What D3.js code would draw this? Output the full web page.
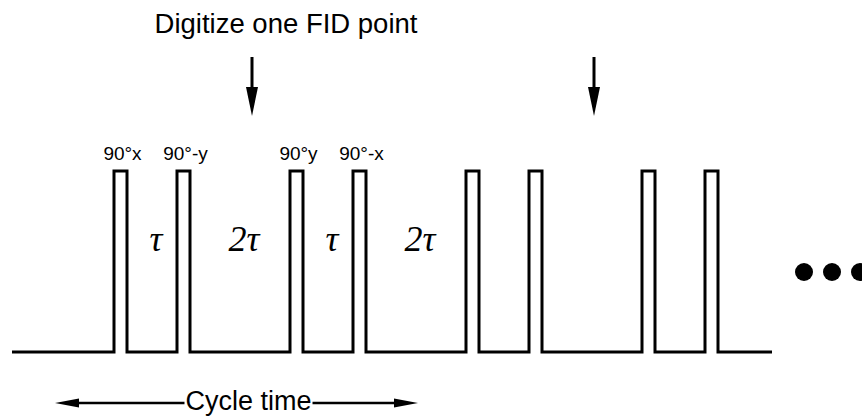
<!DOCTYPE html>
<html><head><meta charset="utf-8">
<script src="https://cdn.jsdelivr.net/npm/d3@7"></script>
<style>html,body{margin:0;padding:0;background:#fff;}svg{display:block;}</style>
</head><body>
<svg id="c" width="862" height="416"></svg>
<script>
// Time axis in units of tau
const pulseStarts = [0, 1.26, 3.52, 4.78, 7.04, 8.30, 10.56, 11.82];
const pulseWidth = 0.26;
const trainRange = [-2.04, 13.16];
const pulseLabels = ["90°x", "90°-y", "90°y", "90°-x"];
const delayLabels = ["τ", "2τ", "τ", "2τ"];
const digitizeTimes = [2.76, 9.60];
const cycleRange = [-1.18, 6.08];
const cycleTextCenter = 2.69;
const titleText = "Digitize one FID point";
const cycleText = "Cycle time";
const dotCount = 3;

const svg = d3.select("#c");
const x = d3.scaleLinear().domain([0, 1]).range([114, 164]);
const y = d3.scaleLinear().domain([0, 1]).range([352, 171]);

// pulse train
const pts = [[trainRange[0], 0]];
pulseStarts.forEach(s => {
  pts.push([s, 0], [s, 1], [s + pulseWidth, 1], [s + pulseWidth, 0]);
});
pts.push([trainRange[1], 0]);
svg.append("path")
  .attr("d", d3.line().x(d => x(d[0])).y(d => y(d[1]))(pts))
  .attr("fill", "none").attr("stroke", "#000").attr("stroke-width", 3)
  .attr("stroke-linejoin", "miter");

// pulse labels
svg.selectAll("text.pl").data(pulseLabels).join("text")
  .attr("class", "pl")
  .attr("x", (d, i) => x(pulseStarts[i] + pulseWidth / 2) + 2)
  .attr("y", y(1) - 11)
  .attr("text-anchor", "middle")
  .attr("font-family", "Liberation Sans, Arial, sans-serif")
  .attr("font-size", 19)
  .text(d => d);

// delay labels
svg.selectAll("text.dl").data(delayLabels).join("text")
  .attr("class", "dl")
  .attr("x", (d, i) => x((pulseStarts[i] + pulseWidth + pulseStarts[i + 1]) / 2 + 0.08))
  .attr("y", y(0.56))
  .attr("text-anchor", "middle")
  .attr("font-family", "Liberation Serif, Times New Roman, serif")
  .attr("font-style", "italic")
  .attr("font-size", 36)
  .text(d => d);

// title
svg.append("text")
  .attr("x", 286).attr("y", 33)
  .attr("text-anchor", "middle")
  .attr("font-family", "Liberation Sans, Arial, sans-serif")
  .attr("font-size", 27.5)
  .text(titleText);

// digitize arrows
const arrowTop = 57, arrowTip = 116, headLen = 29, headHalf = 6;
digitizeTimes.forEach(t => {
  const ax = x(t);
  svg.append("line").attr("x1", ax).attr("x2", ax)
    .attr("y1", arrowTop).attr("y2", arrowTip - headLen + 2)
    .attr("stroke", "#000").attr("stroke-width", 3);
  svg.append("path")
    .attr("d", `M${ax - headHalf},${arrowTip - headLen} L${ax + headHalf},${arrowTip - headLen} L${ax},${arrowTip} Z`)
    .attr("fill", "#000");
});

// ellipsis dots
svg.selectAll("circle.dot").data(d3.range(dotCount)).join("circle")
  .attr("class", "dot")
  .attr("cx", d => x(13.8) + d * 28)
  .attr("cy", 272)
  .attr("r", 9)
  .attr("fill", "#000");

// cycle time arrow
const cy = 403;
const cx0 = x(cycleRange[0]), cx1 = x(cycleRange[1]);
const ct = svg.append("text")
  .attr("x", x(cycleTextCenter)).attr("y", 410)
  .attr("text-anchor", "middle")
  .attr("font-family", "Liberation Sans, Arial, sans-serif")
  .attr("font-size", 27)
  .text(cycleText);
const bb = ct.node().getBBox();
const cHead = 24, cHalf = 4.5;
svg.append("line").attr("x1", cx0 + cHead - 2).attr("x2", bb.x - 1)
  .attr("y1", cy).attr("y2", cy).attr("stroke", "#000").attr("stroke-width", 2.5);
svg.append("line").attr("x1", bb.x + bb.width + 1).attr("x2", cx1 - cHead + 2)
  .attr("y1", cy).attr("y2", cy).attr("stroke", "#000").attr("stroke-width", 2.5);
svg.append("path").attr("d", `M${cx0},${cy} L${cx0 + cHead},${cy - cHalf} L${cx0 + cHead},${cy + cHalf} Z`).attr("fill", "#000");
svg.append("path").attr("d", `M${cx1},${cy} L${cx1 - cHead},${cy - cHalf} L${cx1 - cHead},${cy + cHalf} Z`).attr("fill", "#000");
</script>
</body></html>
